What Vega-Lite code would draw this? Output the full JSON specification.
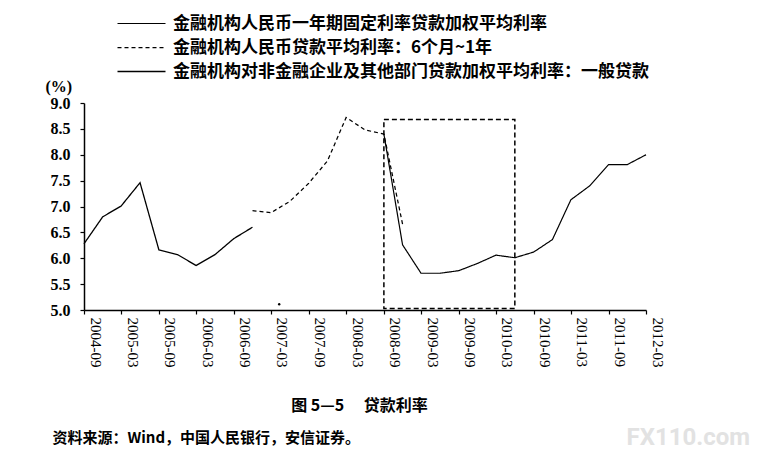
{
  "$schema": "https://vega.github.io/schema/vega-lite/v6.json",
  "width": 562,
  "height": 207,
  "autosize": {"type": "none"},
  "padding": {"left": 84, "top": 103, "right": 112, "bottom": 147},
  "background": "white",
  "config": {"view": {"stroke": null}, "axis": {"grid": false}},
  "resolve": {"axis": {"x": "independent", "y": "independent"}},
  "layer": [
    {
      "data": {
        "values": [
          {"date": "2004-09-01", "series": "金融机构对非金融企业及其他部门贷款加权平均利率：一般贷款", "value": 6.28},
          {"date": "2004-12-01", "series": "金融机构对非金融企业及其他部门贷款加权平均利率：一般贷款", "value": 6.8},
          {"date": "2005-03-01", "series": "金融机构对非金融企业及其他部门贷款加权平均利率：一般贷款", "value": 7.01},
          {"date": "2005-06-01", "series": "金融机构对非金融企业及其他部门贷款加权平均利率：一般贷款", "value": 7.46},
          {"date": "2005-09-01", "series": "金融机构对非金融企业及其他部门贷款加权平均利率：一般贷款", "value": 6.16},
          {"date": "2005-12-01", "series": "金融机构对非金融企业及其他部门贷款加权平均利率：一般贷款", "value": 6.07},
          {"date": "2006-03-01", "series": "金融机构对非金融企业及其他部门贷款加权平均利率：一般贷款", "value": 5.86},
          {"date": "2006-06-01", "series": "金融机构对非金融企业及其他部门贷款加权平均利率：一般贷款", "value": 6.07},
          {"date": "2006-09-01", "series": "金融机构对非金融企业及其他部门贷款加权平均利率：一般贷款", "value": 6.38},
          {"date": "2006-12-01", "series": "金融机构对非金融企业及其他部门贷款加权平均利率：一般贷款", "value": 6.6},
          {"date": "2006-12-01", "series": "金融机构人民币贷款平均利率：6个月~1年", "value": 6.92},
          {"date": "2007-03-01", "series": "金融机构人民币贷款平均利率：6个月~1年", "value": 6.88},
          {"date": "2007-06-01", "series": "金融机构人民币贷款平均利率：6个月~1年", "value": 7.1},
          {"date": "2007-09-01", "series": "金融机构人民币贷款平均利率：6个月~1年", "value": 7.45},
          {"date": "2007-12-01", "series": "金融机构人民币贷款平均利率：6个月~1年", "value": 7.88},
          {"date": "2008-03-01", "series": "金融机构人民币贷款平均利率：6个月~1年", "value": 8.72},
          {"date": "2008-06-01", "series": "金融机构人民币贷款平均利率：6个月~1年", "value": 8.48},
          {"date": "2008-09-01", "series": "金融机构人民币贷款平均利率：6个月~1年", "value": 8.4},
          {"date": "2008-12-01", "series": "金融机构人民币贷款平均利率：6个月~1年", "value": 6.66},
          {"date": "2008-09-01", "series": "金融机构人民币一年期固定利率贷款加权平均利率", "value": 8.4},
          {"date": "2008-12-01", "series": "金融机构人民币一年期固定利率贷款加权平均利率", "value": 6.26},
          {"date": "2009-03-01", "series": "金融机构人民币一年期固定利率贷款加权平均利率", "value": 5.71},
          {"date": "2009-06-01", "series": "金融机构人民币一年期固定利率贷款加权平均利率", "value": 5.71},
          {"date": "2009-09-01", "series": "金融机构人民币一年期固定利率贷款加权平均利率", "value": 5.76},
          {"date": "2009-12-01", "series": "金融机构人民币一年期固定利率贷款加权平均利率", "value": 5.9},
          {"date": "2010-03-01", "series": "金融机构人民币一年期固定利率贷款加权平均利率", "value": 6.06},
          {"date": "2010-06-01", "series": "金融机构人民币一年期固定利率贷款加权平均利率", "value": 6.01},
          {"date": "2010-09-01", "series": "金融机构人民币一年期固定利率贷款加权平均利率", "value": 6.12},
          {"date": "2010-12-01", "series": "金融机构人民币一年期固定利率贷款加权平均利率", "value": 6.36},
          {"date": "2011-03-01", "series": "金融机构人民币一年期固定利率贷款加权平均利率", "value": 7.13},
          {"date": "2011-06-01", "series": "金融机构人民币一年期固定利率贷款加权平均利率", "value": 7.4},
          {"date": "2011-09-01", "series": "金融机构人民币一年期固定利率贷款加权平均利率", "value": 7.81},
          {"date": "2011-12-01", "series": "金融机构人民币一年期固定利率贷款加权平均利率", "value": 7.81},
          {"date": "2012-03-01", "series": "金融机构人民币一年期固定利率贷款加权平均利率", "value": 8.0}
        ]
      },
      "mark": {"type": "line", "color": "black", "strokeJoin": "miter"},
      "encoding": {
        "x": {
          "field": "date",
          "type": "temporal",
          "timeUnit": "utcyearmonth",
          "scale": {"domain": [{"year": 2004, "month": 9, "utc": true}, {"year": 2012, "month": 3, "utc": true}]},
          "axis": {
            "values": [
              {"year": 2004, "month": 9, "utc": true}, {"year": 2005, "month": 3, "utc": true},
              {"year": 2005, "month": 9, "utc": true}, {"year": 2006, "month": 3, "utc": true},
              {"year": 2006, "month": 9, "utc": true}, {"year": 2007, "month": 3, "utc": true},
              {"year": 2007, "month": 9, "utc": true}, {"year": 2008, "month": 3, "utc": true},
              {"year": 2008, "month": 9, "utc": true}, {"year": 2009, "month": 3, "utc": true},
              {"year": 2009, "month": 9, "utc": true}, {"year": 2010, "month": 3, "utc": true},
              {"year": 2010, "month": 9, "utc": true}, {"year": 2011, "month": 3, "utc": true},
              {"year": 2011, "month": 9, "utc": true}, {"year": 2012, "month": 3, "utc": true}
            ],
            "format": "%Y-%m",
            "labelAngle": 90,
            "labelAlign": "left",
            "labelBaseline": "middle",
            "labelOffset": 11,
            "labelPadding": 3,
            "labelFlush": false,
            "labelOverlap": false,
            "labelFont": "Liberation Serif",
            "labelFontSize": 15,
            "labelColor": "black",
            "tickSize": 4,
            "tickColor": "black",
            "tickWidth": 1.2,
            "domainColor": "black",
            "domainWidth": 1.5,
            "title": "资料来源：Wind，中国人民银行，安信证券。",
            "titleFont": "Noto Sans CJK SC",
            "titleFontSize": 15,
            "titleFontWeight": "bold",
            "titleColor": "black",
            "titleAngle": 0,
            "titleAlign": "left",
            "titleBaseline": "middle",
            "titleX": -32,
            "titleY": 127
          }
        },
        "y": {
          "field": "value",
          "type": "quantitative",
          "scale": {"domain": [5, 9]},
          "axis": {
            "values": [5, 5.5, 6, 6.5, 7, 7.5, 8, 8.5, 9],
            "format": ".1f",
            "labelFlush": false,
            "labelFont": "Liberation Serif",
            "labelFontSize": 16,
            "labelFontWeight": "bold",
            "labelColor": "black",
            "labelPadding": 10,
            "tickSize": 4,
            "tickColor": "black",
            "tickWidth": 1.2,
            "domainColor": "black",
            "domainWidth": 1.5,
            "title": "(%)",
            "titleFont": "Liberation Serif",
            "titleFontSize": 16,
            "titleFontWeight": "bold",
            "titleColor": "black",
            "titleAngle": 0,
            "titleAlign": "left",
            "titleBaseline": "middle",
            "titleX": -39,
            "titleY": -17
          }
        },
        "strokeDash": {
          "field": "series",
          "type": "nominal",
          "scale": {
            "domain": ["金融机构人民币一年期固定利率贷款加权平均利率", "金融机构人民币贷款平均利率：6个月~1年", "金融机构对非金融企业及其他部门贷款加权平均利率：一般贷款"],
            "range": [[1, 0], [4, 3], [1, 0]]
          },
          "legend": {
            "orient": "none", "legendX": 49, "legendY": -88, "title": null,
            "symbolType": "M-4,0H4", "symbolSize": 144, "symbolStrokeColor": "black", "symbolFillColor": "transparent",
            "labelFont": "Noto Sans CJK SC", "labelFontSize": 17, "labelFontWeight": "bold",
            "labelColor": "black", "labelOffset": 23, "labelLimit": 700, "rowPadding": 6
          }
        },
        "strokeWidth": {
          "field": "series",
          "type": "nominal",
          "scale": {
            "domain": ["金融机构人民币一年期固定利率贷款加权平均利率", "金融机构人民币贷款平均利率：6个月~1年", "金融机构对非金融企业及其他部门贷款加权平均利率：一般贷款"],
            "range": [1.2, 1.3, 2.5]
          },
          "legend": {
            "orient": "none", "legendX": 49, "legendY": -88, "title": null,
            "symbolType": "M-4,0H4", "symbolSize": 144, "symbolStrokeColor": "black", "symbolFillColor": "transparent",
            "labelFont": "Noto Sans CJK SC", "labelFontSize": 17, "labelFontWeight": "bold",
            "labelColor": "black", "labelOffset": 23, "labelLimit": 700, "rowPadding": 6
          }
        }
      }
    },
    {
      "data": {"values": [{"start": "2008-09-01", "end": "2010-06-01", "low": 5.03, "high": 8.68}]},
      "mark": {"type": "rect", "fill": "transparent", "stroke": "black", "strokeWidth": 1.5, "strokeDash": [5, 3]},
      "encoding": {
        "x": {
          "field": "start",
          "type": "temporal",
          "timeUnit": "utcyearmonth",
          "scale": {"domain": [{"year": 2004, "month": 9, "utc": true}, {"year": 2012, "month": 3, "utc": true}]},
          "axis": {
            "orient": "top",
            "domain": false,
            "ticks": false,
            "labels": false,
            "title": "图 5—5　 贷款利率",
            "titleFont": "Noto Sans CJK SC",
            "titleFontSize": 16,
            "titleFontWeight": "bold",
            "titleColor": "black",
            "titleAlign": "center",
            "titleBaseline": "middle",
            "titleX": 275,
            "titleY": 302
          }
        },
        "x2": {"field": "end", "timeUnit": "utcyearmonth"},
        "y": {"field": "low", "type": "quantitative", "scale": {"domain": [5, 9]}, "axis": null},
        "y2": {"field": "high"}
      }
    },
    {
      "data": {"values": [{"date": "2007-04-10", "value": 5.11}]},
      "mark": {"type": "point", "filled": true, "color": "black", "size": 6, "opacity": 1},
      "encoding": {
        "x": {
          "field": "date",
          "type": "temporal",
          "timeUnit": "utcyearmonthdate",
          "scale": {"domain": [{"year": 2004, "month": 9, "utc": true}, {"year": 2012, "month": 3, "utc": true}]},
          "axis": null
        },
        "y": {
          "field": "value",
          "type": "quantitative",
          "scale": {"domain": [5, 9]},
          "axis": {
            "orient": "right",
            "domain": false,
            "ticks": false,
            "labels": false,
            "title": "FX110.com",
            "titleFont": "Roboto",
            "titleFontSize": 24,
            "titleFontWeight": "bold",
            "titleColor": "#e2e2e2",
            "titleAngle": 0,
            "titleAlign": "left",
            "titleBaseline": "middle",
            "titleX": -20,
            "titleY": 334
          }
        }
      }
    }
  ]
}
